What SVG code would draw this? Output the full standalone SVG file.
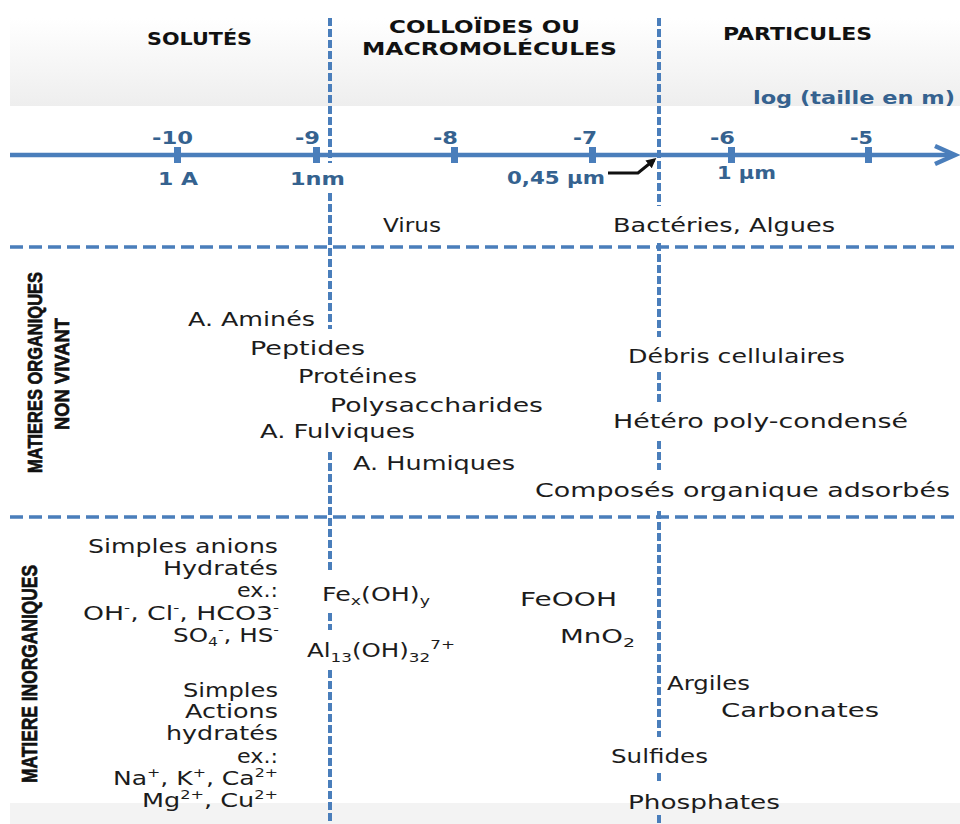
<svg xmlns="http://www.w3.org/2000/svg" width="960" height="824" viewBox="0 0 960 824">
<defs>
<linearGradient id="hg" x1="0" y1="0" x2="0" y2="1">
<stop offset="0" stop-color="#ffffff"/>
<stop offset="1" stop-color="#eeeeee"/>
</linearGradient>
<marker id="ah" markerWidth="10" markerHeight="10" refX="7" refY="5" orient="auto" markerUnits="userSpaceOnUse" viewBox="0 0 10 10">
<path d="M0,0 L10,5 L0,10 z" fill="#111"/>
</marker>
</defs>
<style>
.t{font-family:"DejaVu Sans",sans-serif;font-size:19px;fill:#1c1c1c}
.h{font-family:"DejaVu Sans",sans-serif;font-weight:bold;font-size:18px;fill:#111}
.ax{font-family:"DejaVu Sans",sans-serif;font-weight:bold;font-size:18px;fill:#35628f}
.v{font-family:"Liberation Sans",sans-serif;font-weight:bold;fill:#111;stroke:#111;stroke-width:0.7}
.s{font-size:12px}
.vd{stroke:#4a7ebb;stroke-width:4;stroke-dasharray:8 3;fill:none}
.hd{stroke:#4a7ebb;stroke-width:3.5;stroke-dasharray:13 6;fill:none}
.axl{stroke:#4a7ebb;stroke-width:4.5;fill:none}
.tick{fill:#4a7ebb}
</style>
<rect width="960" height="824" fill="#ffffff"/>
<rect id="header-band" x="10" y="18" width="950" height="88" fill="url(#hg)"/>
<rect id="footer-band" x="10" y="803" width="950" height="21" fill="#f3f3f3"/>

<g id="grid">
<path class="vd" d="M330,18 V163 M330,193 V329 M330,452 V573 M330,613 V630 M330,670 V824"/>
<path class="vd" d="M659,18 V206 M659,243 V337 M659,372 V403 M659,441 V470 M659,511 V737 M659,773 V783 M659,815 V824"/>
<path class="hd" d="M10,247 H960 M10,517 H960"/>
</g>

<g id="axis">
<path class="axl" d="M10,155 H952"/>
<path class="axl" d="M935,146 L955,155 L935,164" stroke-linejoin="miter"/>
<rect class="tick" x="174" y="147" width="7" height="16"/>
<rect class="tick" x="313" y="147" width="7" height="16"/>
<rect class="tick" x="451" y="147" width="7" height="16"/>
<rect class="tick" x="589" y="147" width="7" height="16"/>
<rect class="tick" x="728" y="147" width="7" height="16"/>
<rect class="tick" x="865" y="147" width="7" height="16"/>
<text class="ax" x="152" y="144" textLength="41" lengthAdjust="spacingAndGlyphs">-10</text>
<text class="ax" x="295" y="144" textLength="25" lengthAdjust="spacingAndGlyphs">-9</text>
<text class="ax" x="433" y="144" textLength="25" lengthAdjust="spacingAndGlyphs">-8</text>
<text class="ax" x="573" y="144" textLength="24" lengthAdjust="spacingAndGlyphs">-7</text>
<text class="ax" x="710" y="144" textLength="25" lengthAdjust="spacingAndGlyphs">-6</text>
<text class="ax" x="850" y="144" textLength="23" lengthAdjust="spacingAndGlyphs">-5</text>
<text class="ax" x="158" y="185" textLength="40" lengthAdjust="spacingAndGlyphs">1 A</text>
<text class="ax" x="290" y="185" textLength="55" lengthAdjust="spacingAndGlyphs">1nm</text>
<text class="ax" x="507" y="184" textLength="98" lengthAdjust="spacingAndGlyphs">0,45 µm</text>
<text class="ax" x="717" y="179" textLength="59" lengthAdjust="spacingAndGlyphs">1 µm</text>
<text class="ax" x="753" y="104" textLength="202" lengthAdjust="spacingAndGlyphs">log (taille en m)</text>
</g>

<g id="connectors">
<path d="M608,173 H638 L654,160" stroke="#111" stroke-width="3" fill="none" marker-end="url(#ah)"/>
</g>

<g id="headers">
<g id="h-solutes"><text class="h" x="147" y="45" textLength="105" lengthAdjust="spacingAndGlyphs">SOLUTÉS</text></g>
<g id="h-colloides">
<text class="h" x="389" y="33" textLength="191" lengthAdjust="spacingAndGlyphs">COLLOÏDES OU</text>
<text class="h" x="362" y="55" textLength="255" lengthAdjust="spacingAndGlyphs">MACROMOLÉCULES</text>
</g>
<g id="h-particules"><text class="h" x="723" y="40" textLength="149" lengthAdjust="spacingAndGlyphs">PARTICULES</text></g>
</g>

<g id="side-labels">
<g id="l-organiques">
<text class="v" transform="translate(42,473) rotate(-90)" font-size="21" textLength="201" lengthAdjust="spacingAndGlyphs">MATIERES ORGANIQUES</text>
<text class="v" transform="translate(69,430) rotate(-90)" font-size="21" textLength="112" lengthAdjust="spacingAndGlyphs">NON VIVANT</text>
</g>
<g id="l-inorganiques">
<text class="v" transform="translate(37,783) rotate(-90)" font-size="22" textLength="218" lengthAdjust="spacingAndGlyphs">MATIERE INORGANIQUES</text>
</g>
</g>

<g id="vivant">
<g id="n-virus"><text class="t" x="383" y="232" textLength="58" lengthAdjust="spacingAndGlyphs">Virus</text></g>
<g id="n-bacteries"><text class="t" x="613" y="232" textLength="222" lengthAdjust="spacingAndGlyphs">Bactéries, Algues</text></g>
</g>

<g id="organique">
<g id="n-amines"><text class="t" x="188" y="326" textLength="127" lengthAdjust="spacingAndGlyphs">A. Aminés</text></g>
<g id="n-peptides"><text class="t" x="250" y="355" textLength="115" lengthAdjust="spacingAndGlyphs">Peptides</text></g>
<g id="n-proteines"><text class="t" x="298" y="383" textLength="119" lengthAdjust="spacingAndGlyphs">Protéines</text></g>
<g id="n-polysaccharides"><text class="t" x="330" y="412" textLength="213" lengthAdjust="spacingAndGlyphs">Polysaccharides</text></g>
<g id="n-fulviques"><text class="t" x="260" y="438" textLength="155" lengthAdjust="spacingAndGlyphs">A. Fulviques</text></g>
<g id="n-humiques"><text class="t" x="353" y="470" textLength="162" lengthAdjust="spacingAndGlyphs">A. Humiques</text></g>
<g id="n-debris"><text class="t" x="628" y="363" textLength="217" lengthAdjust="spacingAndGlyphs">Débris cellulaires</text></g>
<g id="n-hetero"><text class="t" x="613" y="428" textLength="295" lengthAdjust="spacingAndGlyphs">Hétéro poly-condensé</text></g>
<g id="n-composes"><text class="t" x="535" y="497" textLength="415" lengthAdjust="spacingAndGlyphs">Composés organique adsorbés</text></g>
</g>

<g id="inorganique">
<g id="n-anions">
<text class="t" x="88" y="553" textLength="190" lengthAdjust="spacingAndGlyphs">Simples anions</text>
<text class="t" x="163" y="575" textLength="115" lengthAdjust="spacingAndGlyphs">Hydratés</text>
<text class="t" x="237" y="597" textLength="41" lengthAdjust="spacingAndGlyphs">ex.:</text>
<text class="t" x="83" y="620" textLength="196" lengthAdjust="spacingAndGlyphs">OH<tspan class="s" dy="-8">-</tspan><tspan dy="8">, Cl</tspan><tspan class="s" dy="-8">-</tspan><tspan dy="8">, HCO3</tspan><tspan class="s" dy="-8">-</tspan></text>
<text class="t" x="173" y="642" textLength="106" lengthAdjust="spacingAndGlyphs">SO<tspan class="s" dy="4">4</tspan><tspan class="s" dy="-12">-</tspan><tspan dy="8">, HS</tspan><tspan class="s" dy="-8">-</tspan></text>
</g>
<g id="n-cations">
<text class="t" x="183" y="697" textLength="95" lengthAdjust="spacingAndGlyphs">Simples</text>
<text class="t" x="185" y="718" textLength="93" lengthAdjust="spacingAndGlyphs">Actions</text>
<text class="t" x="166" y="740" textLength="112" lengthAdjust="spacingAndGlyphs">hydratés</text>
<text class="t" x="237" y="763" textLength="41" lengthAdjust="spacingAndGlyphs">ex.:</text>
<text class="t" x="113" y="785" textLength="165" lengthAdjust="spacingAndGlyphs">Na<tspan class="s" dy="-8">+</tspan><tspan dy="8">, K</tspan><tspan class="s" dy="-8">+</tspan><tspan dy="8">, Ca</tspan><tspan class="s" dy="-8">2+</tspan></text>
<text class="t" x="142" y="807" textLength="136" lengthAdjust="spacingAndGlyphs">Mg<tspan class="s" dy="-8">2+</tspan><tspan dy="8">, Cu</tspan><tspan class="s" dy="-8">2+</tspan></text>
</g>
<g id="n-feoh"><text class="t" x="322" y="601" textLength="108" lengthAdjust="spacingAndGlyphs">Fe<tspan font-size="13" dy="4">x</tspan><tspan dy="-4">(OH)</tspan><tspan font-size="13" dy="4">y</tspan></text></g>
<g id="n-al13"><text class="t" x="307" y="657" textLength="148" lengthAdjust="spacingAndGlyphs">Al<tspan font-size="13" dy="5">13</tspan><tspan dy="-5">(OH)</tspan><tspan font-size="13" dy="5">32</tspan><tspan font-size="13" dy="-13">7+</tspan></text></g>
<g id="n-feooh"><text class="t" x="520" y="606" textLength="97" lengthAdjust="spacingAndGlyphs">FeOOH</text></g>
<g id="n-mno2"><text class="t" x="560" y="643" textLength="75" lengthAdjust="spacingAndGlyphs">MnO<tspan font-size="13" dy="4">2</tspan></text></g>
<g id="n-argiles"><text class="t" x="667" y="690" textLength="83" lengthAdjust="spacingAndGlyphs">Argiles</text></g>
<g id="n-carbonates"><text class="t" x="721" y="717" textLength="158" lengthAdjust="spacingAndGlyphs">Carbonates</text></g>
<g id="n-sulfides"><text class="t" x="611" y="763" textLength="97" lengthAdjust="spacingAndGlyphs">Sulfides</text></g>
<g id="n-phosphates"><text class="t" x="628" y="809" textLength="152" lengthAdjust="spacingAndGlyphs">Phosphates</text></g>
</g>
</svg>
